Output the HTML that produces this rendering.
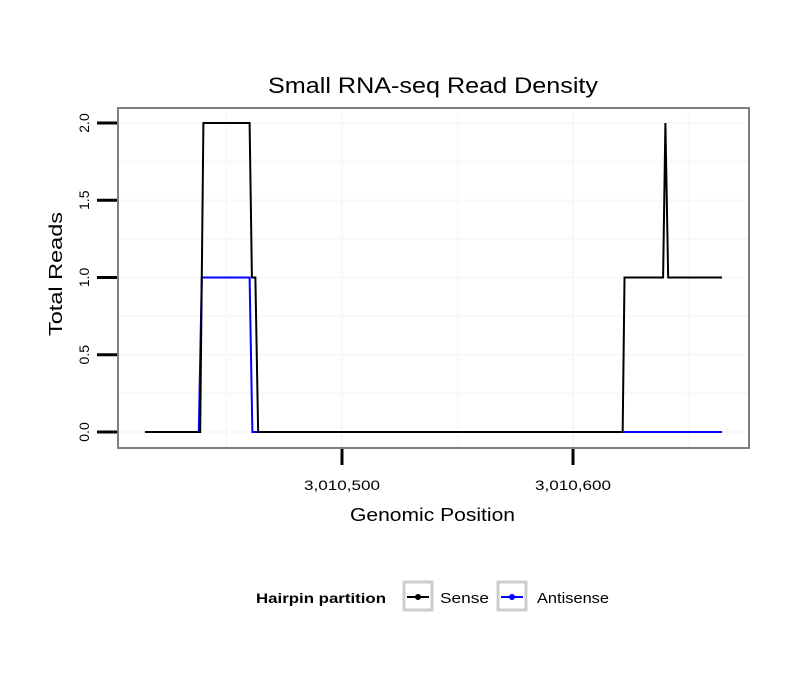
<!DOCTYPE html>
<html><head><meta charset="utf-8"><style>
body{margin:0;background:#fff}
svg{font-family:"Liberation Sans",sans-serif}
</style></head><body>
<svg width="810" height="690">
<rect width="810" height="690" fill="#fff"/>
<g id="grid"></g>
<g id="series"></g>
<rect x="118" y="108" width="631" height="340" fill="none" stroke="#7f7f7f" stroke-width="2"/>
<g id="axes"></g>
<text x="268" y="93" textLength="330" lengthAdjust="spacingAndGlyphs" font-size="22">Small RNA-seq Read Density</text>
<text x="350" y="521" textLength="165" lengthAdjust="spacingAndGlyphs" font-size="18">Genomic Position</text>
<text transform="translate(62,336) rotate(-90)" textLength="124" lengthAdjust="spacingAndGlyphs" font-size="18">Total Reads</text>
<g>
<text x="256" y="603" textLength="130" lengthAdjust="spacingAndGlyphs" font-size="14" font-weight="bold">Hairpin partition</text>
<g>
<rect x="404" y="582" width="28" height="28" fill="#fff" stroke="#ccc" stroke-width="3"/>
<line x1="407" y1="597" x2="429" y2="597" stroke="#000" stroke-width="2"/><circle cx="418" cy="597" r="3" fill="#000"/>
<text x="440" y="603" textLength="49" lengthAdjust="spacingAndGlyphs" font-size="15">Sense</text></g>
<g>
<rect x="498" y="582" width="28" height="28" fill="#fff" stroke="#ccc" stroke-width="3"/>
<line x1="501" y1="597" x2="523" y2="597" stroke="#00f" stroke-width="2"/><circle cx="512" cy="597" r="3" fill="#00f"/>
<text x="537" y="603" textLength="72" lengthAdjust="spacingAndGlyphs" font-size="15">Antisense</text></g>
</g>
</svg>
<script>
const senseX=[3010414.7,3010438.6,3010440,3010460,3010461,3010462.5,3010463.7,3010621.5,3010622.3,3010639,3010640,3010641.2,3010664.5];
const senseY=[0,0,2,2,1,1,0,0,1,1,2,1,1];
const antiX=[3010414.7,3010438,3010439.3,3010460,3010461.2,3010664.5];
const antiY=[0,0,1,1,0,0];
const xTicks=[3010500,3010600];
const xTickLabels=["3,010,500","3,010,600"];
const yTicks=[0,0.5,1,1.5,2];
const yTickLabels=["0.0","0.5","1.0","1.5","2.0"];
const NS="http://www.w3.org/2000/svg";
const sx=v=>342+(v-3010500)*2.31;
const sy=v=>432-v*154.5;
function mk(t,a,p){const e=document.createElementNS(NS,t);for(const k in a)e.setAttribute(k,a[k]);p.appendChild(e);return e;}
const grid=document.getElementById('grid'),axes=document.getElementById('axes'),series=document.getElementById('series');
for(let v=3010450;v<=3010650;v+=50){const l=mk('line',{x1:sx(v),x2:sx(v),y1:109,y2:447,stroke:'#f8f8f8','stroke-width':v%100===0?2:1.5},grid);

}
for(let v=0;v<=2;v+=0.25){const l=mk('line',{x1:119,x2:748,y1:sy(v),y2:sy(v),stroke:'#f8f8f8','stroke-width':2},grid);

}
function line(xs,ys,c,name){const d=xs.map((x,i)=>(i?'L':'M')+sx(x)+','+sy(ys[i])).join('');
const p=mk('path',{d:d,fill:'none',stroke:c,'stroke-width':2},series);

}
line(antiX,antiY,'#0000ff','antisense-line');
line(senseX,senseY,'#000','sense-line');
const lastZero=senseX[7];
const ax=[lastZero,antiX[antiX.length-1]],ay=[antiY[antiY.length-1],antiY[antiY.length-1]];
line(ax,ay,'#0000ff','antisense-line-tail');
yTicks.forEach((v,i)=>{const t=mk('line',{x1:97,x2:117,y1:sy(v),y2:sy(v),stroke:'#000','stroke-width':3},axes);


const tx=mk('text',{transform:`translate(89,${sy(v)}) rotate(-90)`,'text-anchor':'middle','font-size':14},axes);tx.textContent=yTickLabels[i];

});
xTicks.forEach((v,i)=>{const t=mk('line',{x1:sx(v),x2:sx(v),y1:449,y2:465,stroke:'#000','stroke-width':3},axes);


const tx=mk('text',{x:sx(v)-38,y:490,textLength:76,lengthAdjust:'spacingAndGlyphs','font-size':14},axes);tx.textContent=xTickLabels[i];

});
</script>
</body></html>
